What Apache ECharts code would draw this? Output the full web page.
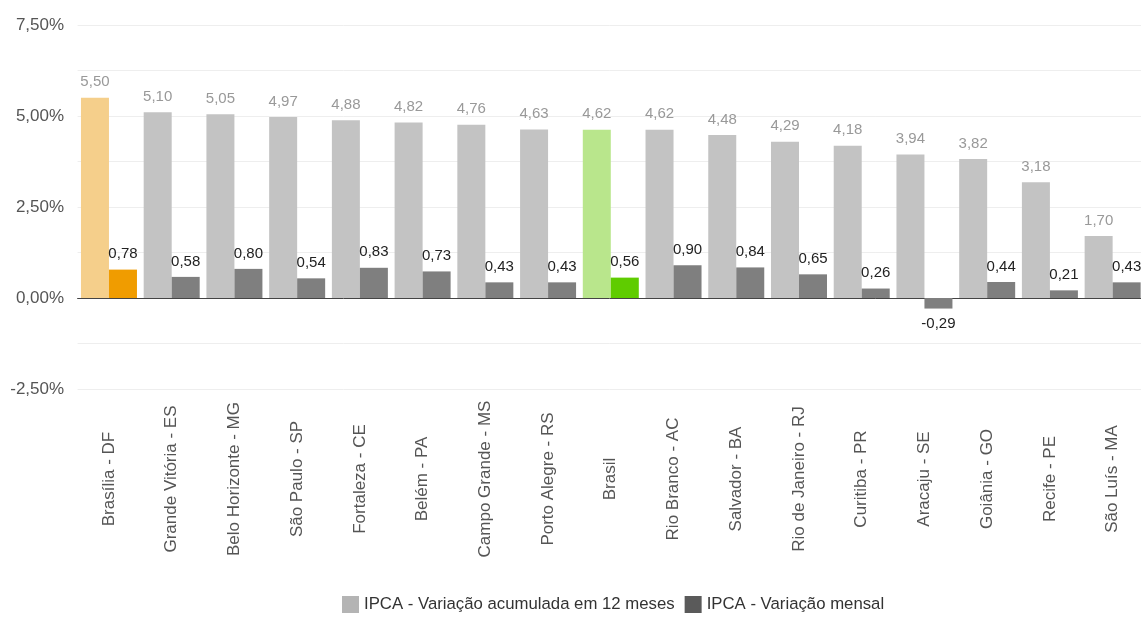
<!DOCTYPE html>
<html>
<head>
<meta charset="utf-8">
<script src="https://cdn.jsdelivr.net/npm/echarts@6/dist/echarts.min.js"></script>
<style>html,body{margin:0;padding:0;background:#fff}#c{width:1141px;height:617px}</style>
</head>
<body>
<div id="c"></div>
<script>
const categories = ['Brasília - DF','Grande Vitória - ES','Belo Horizonte - MG','São Paulo - SP','Fortaleza - CE','Belém - PA','Campo Grande - MS','Porto Alegre - RS','Brasil','Rio Branco - AC','Salvador - BA','Rio de Janeiro - RJ','Curitiba - PR','Aracaju - SE','Goiânia - GO','Recife - PE','São Luís - MA'];
const acumulado12m = [5.50,5.10,5.05,4.97,4.88,4.82,4.76,4.63,4.62,4.62,4.48,4.29,4.18,3.94,3.82,3.18,1.70];
const mensal = [0.78,0.58,0.80,0.54,0.83,0.73,0.43,0.43,0.56,0.90,0.84,0.65,0.26,-0.29,0.44,0.21,0.43];
const seriesNames = ['IPCA - Variação acumulada em 12 meses','IPCA - Variação mensal'];
const yTicks = [-2.5, 0, 2.5, 5, 7.5];

const highlightAcc = {'Brasília - DF':'#f5cf8b','Brasil':'#b9e68c'};
const highlightMon = {'Brasília - DF':'#f09c00','Brasil':'#5fcc00'};
const fmt = v => v.toFixed(2).replace('.', ',');
const FONT = '"Liberation Sans", Arial, sans-serif';

const accData = acumulado12m.map((v,i)=>({value:v, itemStyle:{color: highlightAcc[categories[i]] || '#c3c3c3'}}));
const monData = mensal.map((v,i)=>({value:v, itemStyle:{color: highlightMon[categories[i]] || '#7f7f7f'},
  label: v < 0 ? {position:'bottom'} : undefined}));

const chart = echarts.init(document.getElementById('c'), null, {renderer:'canvas'});
chart.setOption({
  animation:false,
  textStyle:{fontFamily:FONT},
  grid:{left:77.6, right:-3, top:25, bottom:228, containLabel:false, outerBoundsMode:'none'},
  legend:{
    bottom:-1, left:337, itemWidth:17, itemHeight:17, itemGap:10, icon:'rect',
    textStyle:{fontSize:16.75, color:'#333', fontFamily:FONT},
    data:[{name:seriesNames[0], itemStyle:{color:'#b4b4b4'}},{name:seriesNames[1], itemStyle:{color:'#5a5a5a'}}]
  },
  xAxis:{
    type:'category', data:categories,
    axisLine:{onZero:true, lineStyle:{color:'#444', width:1}},
    axisTick:{show:false},
    axisLabel:{rotate:90, interval:0, margin:90, align:'center', verticalAlign:'middle', fontSize:17, color:'#555', fontFamily:FONT}
  },
  yAxis:{
    type:'value', min:-2.5, max:7.5, interval:1.25,
    axisLine:{show:false}, axisTick:{show:false},
    splitLine:{lineStyle:{color:'#eeeeee', width:1}},
    axisLabel:{fontSize:17, color:'#555', margin:13.5, fontFamily:FONT,
      formatter: v => yTicks.some(t => Math.abs(t - v) < 1e-9) ? fmt(v) + '%' : ''}
  },
  series:[
    {name:seriesNames[0], type:'bar', data:accData, barWidth:28, barGap:'0%',
     label:{show:true, position:'top', distance:8, color:'#999', fontSize:15, fontFamily:FONT, formatter:p=>fmt(p.value)}},
    {name:seriesNames[1], type:'bar', data:monData, barWidth:28, barGap:'0%',
     label:{show:true, position:'top', distance:8, color:'#222', fontSize:15, fontFamily:FONT, formatter:p=>fmt(p.value)}}
  ]
});
</script>
</body>
</html>
